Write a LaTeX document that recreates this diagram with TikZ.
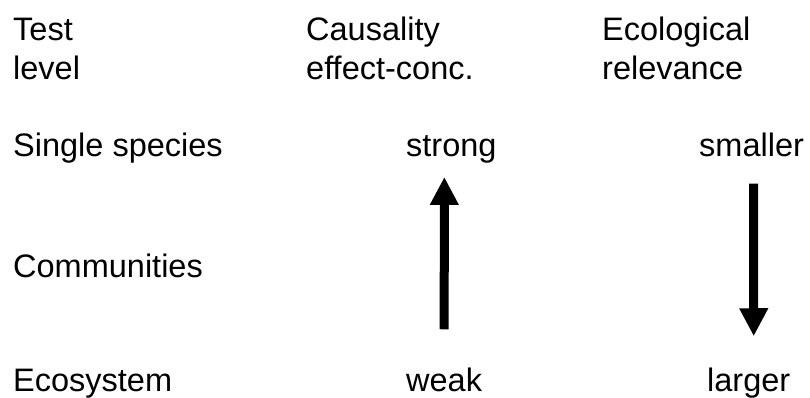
\documentclass[tikz,border=0pt]{standalone}
\usepackage{fontspec}
\setmainfont{Liberation Sans}
\usepackage{tikz}
\usetikzlibrary{arrows.meta}

\begin{document}
\begin{tikzpicture}[
  x=1pt, y=1pt,
  label text/.style={anchor=base west, inner sep=0, font=\fontsize{32.5}{39}\selectfont},
  bigarrow/.style={line width=9pt, -{Triangle[width=27pt, length=28pt]}},
]

\useasboundingbox (0, 0) rectangle (810, -398);

% ==================== column heads ====================
\node[label text] (testhead) at (13, -41) {Test};
\node[label text] (levelhead) at (13, -80) {level};
\node[label text] (caushead) at (306, -41) {Causality};
\node[label text] (effhead) at (306, -80) {effect-conc.};
\node[label text] (ecohead) at (602, -41) {Ecological};
\node[label text] (relhead) at (602, -80) {relevance};

% ==================== levels ====================
\node[label text] (single) at (13, -157) {Single species};
\node[label text] (commun) at (13, -277) {Communities};
\node[label text] (ecosys) at (13, -391) {Ecosystem};

% ==================== causality ====================
\node[label text] (strong) at (406, -157) {strong};
\node[label text] (weak) at (406, -391) {weak};
\draw[bigarrow, shorten <=38pt, shorten >=13pt] ([xshift=0pt]weak.north) -- ([xshift=-7pt]strong.south);

% ==================== relevance ====================
\node[label text] (smaller) at (699, -157) {smaller};
\node[label text] (larger) at (707, -391) {larger};
\draw[bigarrow, shorten <=26pt, shorten >=31pt] ([xshift=2pt]smaller.south) -- ([xshift=5pt]larger.north);

\end{tikzpicture}
\end{document}
